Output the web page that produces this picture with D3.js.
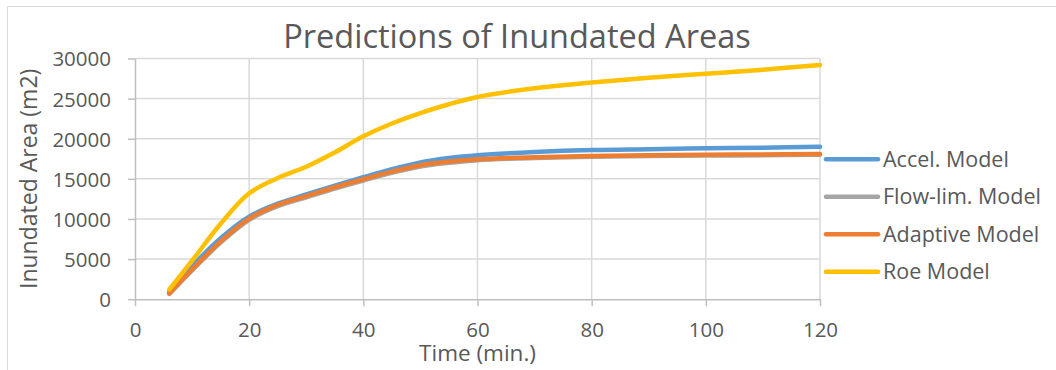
<!DOCTYPE html>
<html>
<head>
<meta charset="utf-8">
<script src="https://cdn.jsdelivr.net/npm/d3@7"></script>
<style>
  html, body { margin: 0; padding: 0; background: #fff; }
  svg { display: block; }
  text { font-family: "Open Sans", "Noto Sans", sans-serif; fill: #595959; }
</style>
</head>
<body>
<svg id="chart" width="1056" height="370"></svg>
<script>
// Simulation output times (minutes)
const times = [6, 10, 15, 20, 25, 30, 35, 40, 45, 50, 55, 60, 70, 80, 90, 100, 110, 120];

// Inundated area per model (m2)
const accelModel    = [900, 4100, 7600, 10300, 11900, 13050, 14150, 15200, 16200, 17050, 17600, 17950, 18350, 18600, 18700, 18800, 18880, 19000];
const flowLimModel  = [650, 3600, 7050, 9900, 11600, 12700, 13800, 14800, 15750, 16550, 17000, 17330, 17600, 17750, 17850, 17900, 17950, 18000];
const adaptiveModel = [720, 3700, 7200, 10050, 11750, 12850, 13950, 14950, 15900, 16700, 17150, 17450, 17700, 17850, 17950, 18000, 18050, 18100];
const roeModel      = [1200, 4800, 9400, 13200, 15100, 16500, 18300, 20300, 21900, 23200, 24300, 25200, 26300, 27000, 27600, 28100, 28600, 29200];

const seriesNames  = ["Accel. Model", "Flow-lim. Model", "Adaptive Model", "Roe Model"];
const seriesValues = [accelModel, flowLimModel, adaptiveModel, roeModel];
const seriesColors = ["#5B9BD5", "#A5A5A5", "#ED7D31", "#FFC000"];

const xTicks = [0, 20, 40, 60, 80, 100, 120];
const yTicks = [0, 5000, 10000, 15000, 20000, 25000, 30000];

const titleText = "Predictions of Inundated Areas";
const xTitle = "Time (min.)";
const yTitle = "Inundated Area (m2)";

const svg = d3.select("#chart");

// outer chart frame (runs past the right and bottom edges)
svg.append("rect")
  .attr("x", 7.5).attr("y", 6.5)
  .attr("width", 1200).attr("height", 500)
  .attr("fill", "#fff").attr("stroke", "#D9D9D9").attr("stroke-width", 1);

const plot = { left: 135, right: 820, top: 58.5, bottom: 299.2 };

const x = d3.scaleLinear().domain([0, 120]).range([plot.left, plot.right]);
const y = d3.scaleLinear().domain([0, 30000]).range([plot.bottom, plot.top]);

// gridlines
const grid = svg.append("g");
grid.selectAll("line.h").data(yTicks.filter(d => d > 0)).join("line")
  .attr("x1", plot.left).attr("x2", plot.right)
  .attr("y1", d => y(d)).attr("y2", d => y(d))
  .attr("stroke", "#D9D9D9").attr("stroke-width", 1.5);
grid.selectAll("line.v").data(xTicks.filter(d => d > 0)).join("line")
  .attr("x1", d => x(d)).attr("x2", d => x(d))
  .attr("y1", plot.top).attr("y2", plot.bottom)
  .attr("stroke", "#D9D9D9").attr("stroke-width", 1.5);

// axes
const xAxis = svg.append("g")
  .attr("transform", `translate(0,${plot.bottom})`)
  .call(d3.axisBottom(x).tickValues(xTicks).tickSize(7).tickSizeOuter(0));
const yAxis = svg.append("g")
  .attr("transform", `translate(${plot.left},0)`)
  .call(d3.axisLeft(y).tickValues(yTicks).tickSize(7).tickPadding(17).tickFormat(d3.format("d")).tickSizeOuter(0));

[xAxis, yAxis].forEach(a => {
  a.select(".domain").attr("stroke", "#BFBFBF").attr("stroke-width", 1.5);
  a.selectAll(".tick line").attr("stroke", "#BFBFBF").attr("stroke-width", 1.5);
  a.selectAll(".tick text")
    .style("font-family", '"Open Sans", "Noto Sans", sans-serif')
    .style("font-size", "20.5px").attr("fill", "#595959");
});
xAxis.selectAll(".tick text").attr("y", 37.5).attr("dy", 0);
yAxis.selectAll(".tick text").attr("dy", "0.36em");

// series lines
const line = d3.line()
  .x((d, i) => x(times[i]))
  .y(d => y(d))
  .curve(d3.curveCatmullRom.alpha(0.5));

svg.append("g").selectAll("path").data(seriesValues).join("path")
  .attr("d", d => line(d))
  .attr("fill", "none")
  .attr("stroke", (d, i) => seriesColors[i])
  .attr("stroke-width", 4.5)
  .attr("stroke-linecap", "round")
  .attr("stroke-linejoin", "round");

// title
svg.append("text")
  .attr("x", 517).attr("y", 48)
  .attr("text-anchor", "middle")
  .style("font-size", "32.5px")
  .text(titleText);

// axis titles
svg.append("text")
  .attr("x", (plot.left + plot.right) / 2).attr("y", 361)
  .attr("text-anchor", "middle")
  .style("font-size", "22.5px")
  .text(xTitle);

svg.append("text")
  .attr("transform", `translate(37,${(plot.top + plot.bottom) / 2}) rotate(-90)`)
  .attr("text-anchor", "middle")
  .style("font-size", "23px")
  .text(yTitle);

// legend
const legend = svg.append("g");
const legendY = [159.3, 196.8, 234.3, 271.8];
seriesNames.forEach((name, i) => {
  legend.append("line")
    .attr("x1", 826).attr("x2", 878)
    .attr("y1", legendY[i]).attr("y2", legendY[i])
    .attr("stroke", seriesColors[i]).attr("stroke-width", 4.5)
    .attr("stroke-linecap", "round");
  legend.append("text")
    .attr("x", 883).attr("y", legendY[i])
    .attr("dy", "0.35em")
    .style("font-size", "21.5px")
    .text(name);
});
</script>
</body>
</html>
